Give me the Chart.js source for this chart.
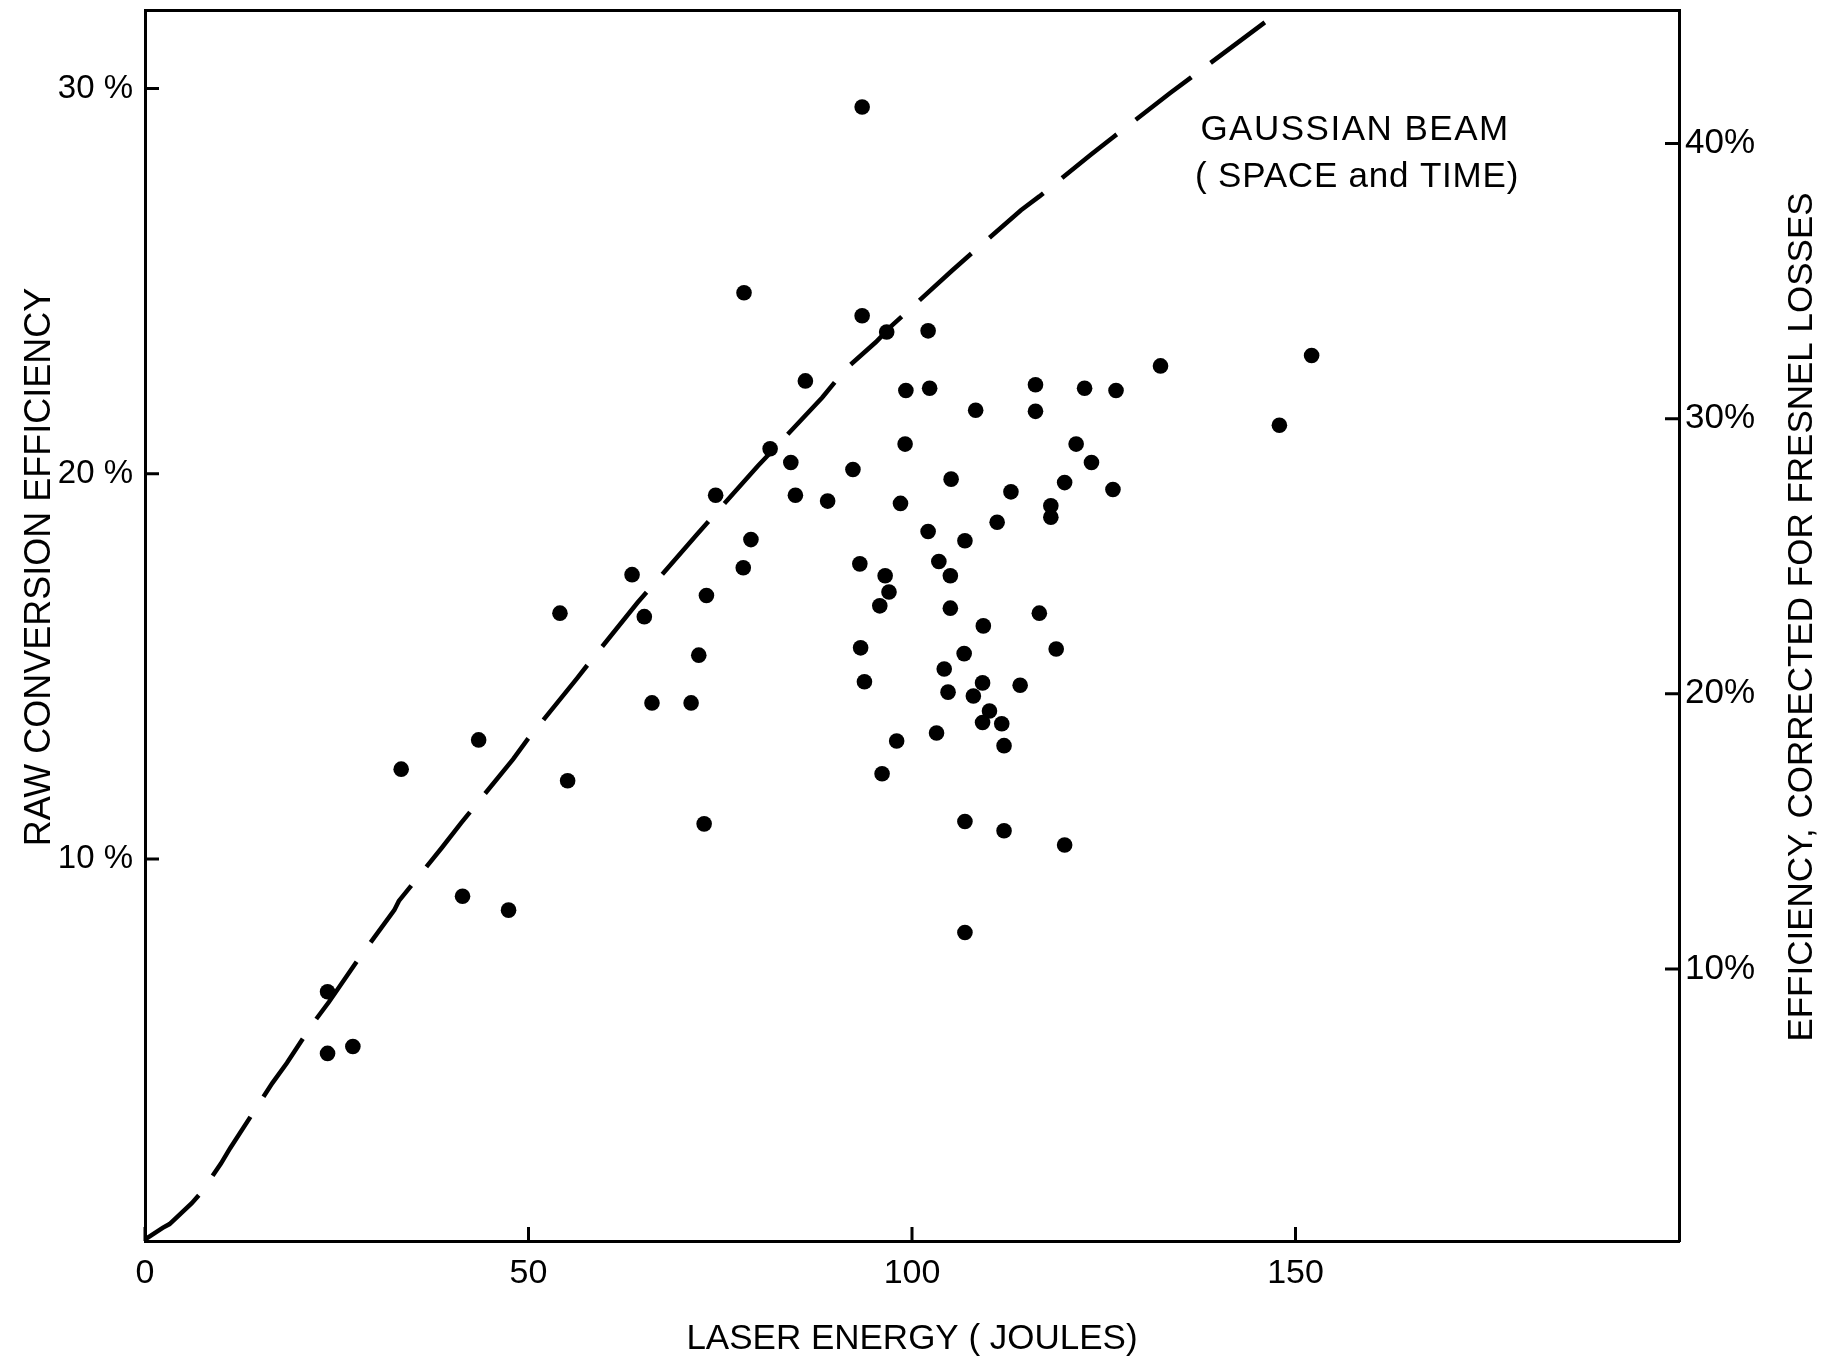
<!DOCTYPE html>
<html>
<head>
<meta charset="utf-8">
<script src="https://cdn.jsdelivr.net/npm/chart.js@4.4.1/dist/chart.umd.min.js"></script>
<style>
  html, body { margin: 0; padding: 0; background: #ffffff; }
  #wrap { width: 1825px; height: 1360px; position: relative; }
</style>
</head>
<body>
<div id="wrap"><canvas id="c" width="1825" height="1360"></canvas></div>
<script>
// ---------- DATA ----------
const energyJ = [
  23.8, 23.8, 27.1, 33.4, 41.4, 43.5, 47.4, 54.1, 55.1, 63.5,
  65.1, 66.1, 71.2, 72.2, 73.2, 72.9, 74.4, 78.0, 78.1, 79.0,
  81.5, 84.2, 84.8, 86.1, 89.0, 92.3, 93.5, 93.5, 93.2, 93.3,
  93.8, 95.8, 96.1, 96.7, 96.5, 97.0, 98.0, 98.5, 99.2, 99.1,
  102.1, 102.3, 102.1, 103.5, 103.2, 104.2, 104.7, 105.0, 105.0, 105.1,
  106.9, 106.8, 106.9, 106.9, 108.0, 108.3, 109.2, 109.2, 109.3, 110.1,
  111.1, 111.7, 112.0, 112.0, 112.9, 114.1, 116.1, 116.1, 116.6, 118.1,
  118.1, 118.8, 119.9, 119.9, 121.4, 122.5, 123.4, 126.2, 126.6, 132.4,
  147.9, 152.1
];
const rawEfficiency = [
  6.55, 4.95, 5.13, 12.33, 9.03, 13.09, 8.67, 16.38, 12.03, 17.38,
  16.29, 14.05, 14.05, 15.29, 16.84, 10.91, 19.44, 17.56, 24.70, 18.29,
  20.65, 20.29, 19.44, 22.41, 19.29, 20.11, 29.52, 24.10, 17.66, 15.48,
  14.60, 16.57, 12.21, 23.68, 17.35, 16.93, 13.06, 19.23, 22.16, 20.77,
  23.71, 22.22, 18.50, 17.72, 13.27, 14.93, 14.33, 17.35, 16.51, 19.86,
  18.26, 15.33, 10.97, 8.09, 14.23, 21.65, 14.57, 13.54, 16.05, 13.84,
  18.74, 13.51, 12.94, 10.73, 19.53, 14.51, 22.31, 21.62, 16.38, 19.17,
  18.87, 15.45, 19.77, 10.36, 20.77, 22.22, 20.29, 19.59, 22.16, 22.80,
  21.26, 23.07
];
// Gaussian beam (space and time) theoretical curve
const curveEnergy = [
  0, 2.3, 3.2, 6.1, 7.3, 9.9, 11.1, 16.6, 18.5, 21.9,
  24.0, 27.8, 29.0, 32.5, 33.1, 38.7, 41.2, 48.0, 49.9, 56.3,
  58.3, 64.2, 71.9, 79.9, 88.3, 91.3, 95.3, 97.4, 105.2, 107.3,
  114.2, 116.6, 123.3, 126.3, 133.7, 136.4, 146.0
];
const curveEfficiency = [
  0.12, 0.42, 0.52, 1.06, 1.33, 2.09, 2.49, 4.18, 4.70, 5.73,
  6.29, 7.39, 7.72, 8.67, 8.91, 10.29, 10.93, 12.59, 13.11, 14.68,
  15.19, 16.65, 18.41, 20.20, 21.98, 22.71, 23.42, 23.85, 25.27, 25.64,
  26.84, 27.20, 28.28, 28.75, 29.89, 30.29, 31.72
];
const xTicks = [0, 50, 100, 150];
const yTicks = [10, 20, 30];
const y2Ticks = [10, 20, 30, 40];
const xRange = [0, 200];
const yRange = [0.08, 32.04];
const fresnelFactor = 1.4;

const xTitle = "LASER ENERGY ( JOULES)";
const yTitle = "RAW CONVERSION EFFICIENCY";
const y2Title = "EFFICIENCY, CORRECTED FOR FRESNEL LOSSES";
const annotationLines = ["GAUSSIAN BEAM", "( SPACE and TIME)"];
const annotationAnchors = [[137.6, 28.67], [136.9, 27.45]];
const annotationSpacing = ['1.5px', '0.8px'];

// ---------- CHART ----------
const FONT = '"Liberation Sans", Arial, sans-serif';
const INK = '#000000';

const scatterPoints = energyJ.map((x, i) => ({ x: x, y: rawEfficiency[i] }));
const curvePoints = curveEnergy.map((x, i) => ({ x: x, y: curveEfficiency[i] }));

function fixBox(w, h) {
  return s => {
    if (w !== null) s.width = w;
    if (h !== null) s.height = h;
    s.paddingTop = 0; s.paddingBottom = 0; s.paddingLeft = 0; s.paddingRight = 0;
  };
}

const framePlugin = {
  id: 'frameDecor',
  afterDraw(chart) {
    const { ctx, chartArea: a, scales } = chart;
    ctx.save();
    ctx.strokeStyle = INK;
    ctx.lineWidth = 3;
    ctx.lineCap = 'butt';
    const L = 14;
    ctx.beginPath();
    xTicks.forEach(v => {
      const p = scales.x.getPixelForValue(v);
      ctx.moveTo(p, a.bottom); ctx.lineTo(p, a.bottom - L);
    });
    yTicks.forEach(v => {
      const p = scales.y.getPixelForValue(v);
      ctx.moveTo(a.left, p); ctx.lineTo(a.left + L, p);
    });
    y2Ticks.forEach(v => {
      const p = scales.y2.getPixelForValue(v);
      ctx.moveTo(a.right, p); ctx.lineTo(a.right - L, p);
    });
    ctx.stroke();

    ctx.fillStyle = INK;
    ctx.textBaseline = 'alphabetic';
    ctx.textAlign = 'center';
    // left axis title (reads bottom to top)
    ctx.font = '36px ' + FONT;
    ctx.save();
    ctx.translate(50, 567);
    ctx.rotate(-Math.PI / 2);
    ctx.fillText(yTitle, 0, 0);
    ctx.restore();
    // right axis title (reads bottom to top)
    ctx.font = '35px ' + FONT;
    ctx.save();
    ctx.translate(1812, 617);
    ctx.rotate(-Math.PI / 2);
    ctx.fillText(y2Title, 0, 0);
    ctx.restore();

    // annotation
    ctx.textAlign = 'left';
    annotationLines.forEach((t, i) => {
      try { ctx.letterSpacing = annotationSpacing[i]; } catch (e) {}
      const [vx, vy] = annotationAnchors[i];
      ctx.fillText(t, scales.x.getPixelForValue(vx), scales.y.getPixelForValue(vy));
    });
    ctx.restore();
  }
};

new Chart(document.getElementById('c'), {
  type: 'scatter',
  data: {
    datasets: [
      {
        label: 'Gaussian beam',
        type: 'line',
        data: curvePoints,
        showLine: true,
        borderColor: INK,
        borderWidth: 4.5,
        borderDash: [70, 24],
        borderCapStyle: 'butt',
        pointRadius: 0,
        tension: 0,
        fill: false,
        order: 2
      },
      {
        label: 'Measured',
        data: scatterPoints,
        pointRadius: 7.8,
        pointHoverRadius: 7.8,
        pointBackgroundColor: INK,
        pointBorderWidth: 0,
        showLine: false,
        order: 1
      }
    ]
  },
  options: {
    responsive: false,
    animation: false,
    devicePixelRatio: 1,
    layout: { padding: 0 },
    plugins: { legend: { display: false }, tooltip: { enabled: false } },
    scales: {
      x: {
        type: 'linear', position: 'bottom',
        min: xRange[0], max: xRange[1],
        afterBuildTicks: s => { s.ticks = xTicks.map(v => ({ value: v })); },
        afterFit: fixBox(null, 119),
        grid: { display: false, drawTicks: false },
        border: { display: true, color: INK, width: 3 },
        ticks: {
          color: INK, font: { family: FONT, size: 34 }, padding: 12,
          maxRotation: 0, autoSkip: false, callback: v => String(v)
        },
        title: {
          display: true, text: xTitle, color: INK,
          font: { family: FONT, size: 35 }, padding: { top: 0, bottom: 0 }
        }
      },
      xTop: {
        type: 'linear', position: 'top',
        min: xRange[0], max: xRange[1],
        afterFit: fixBox(null, 10),
        grid: { display: false, drawTicks: false },
        border: { display: true, color: INK, width: 3 },
        ticks: { display: false }
      },
      y: {
        type: 'linear', position: 'left',
        min: yRange[0], max: yRange[1],
        afterBuildTicks: s => { s.ticks = yTicks.map(v => ({ value: v })); },
        afterFit: fixBox(145, null),
        grid: { display: false, drawTicks: false },
        border: { display: true, color: INK, width: 3 },
        ticks: {
          color: INK, font: { family: FONT, size: 33 }, padding: 12,
          callback: v => v + ' %'
        }
      },
      y2: {
        type: 'linear', position: 'right',
        min: yRange[0] * fresnelFactor, max: yRange[1] * fresnelFactor,
        afterBuildTicks: s => { s.ticks = y2Ticks.map(v => ({ value: v })); },
        afterFit: fixBox(146, null),
        grid: { display: false, drawTicks: false },
        border: { display: true, color: INK, width: 3 },
        ticks: {
          color: INK, font: { family: FONT, size: 35 }, padding: 6,
          callback: v => v + '%'
        }
      }
    }
  },
  plugins: [framePlugin]
});
</script>
</body>
</html>
